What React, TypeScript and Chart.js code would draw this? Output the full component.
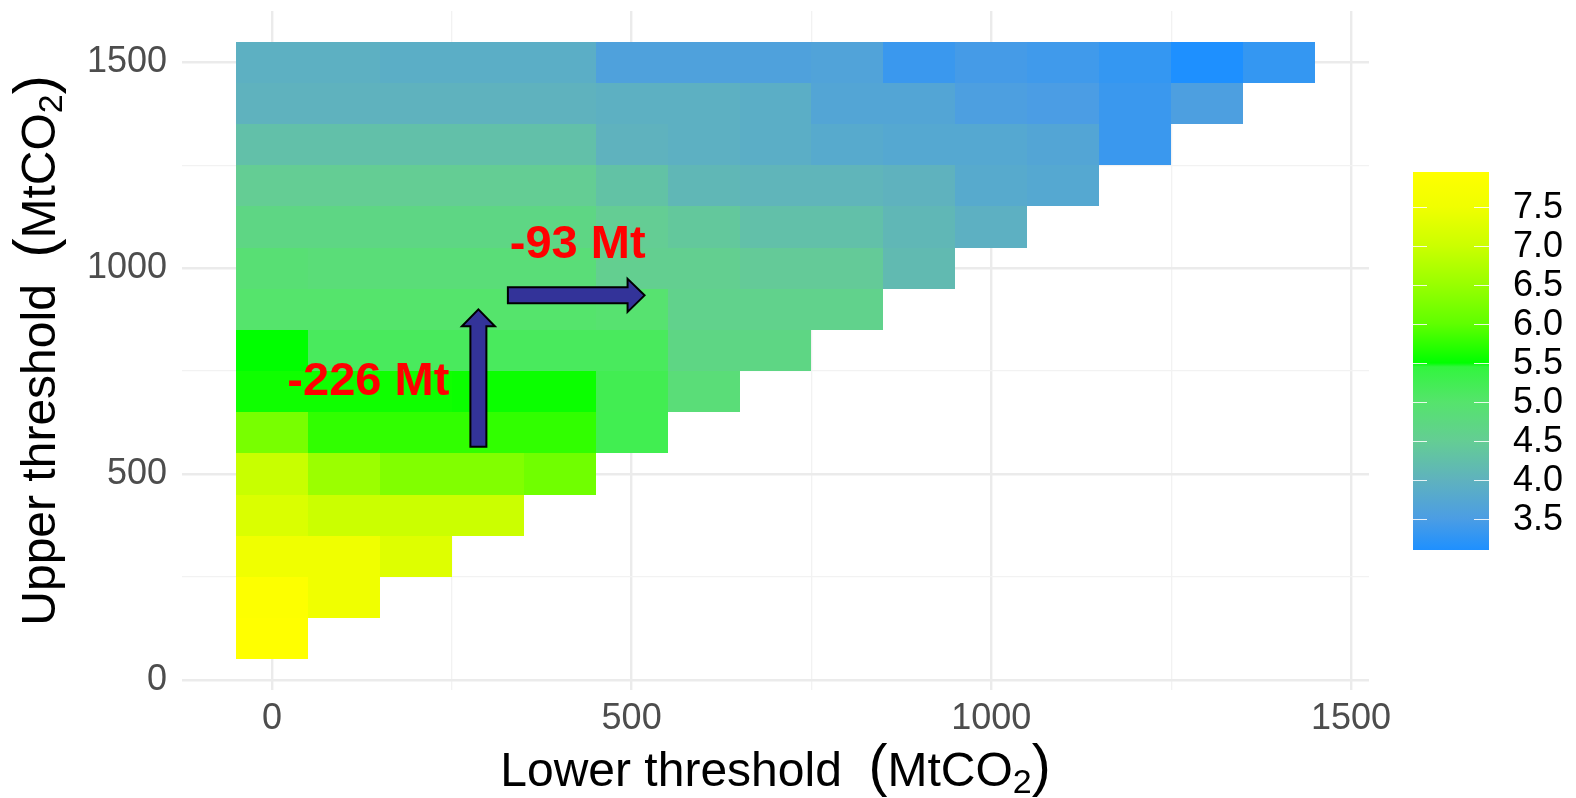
import React, { useEffect, useRef } from "react";
import { Chart, registerables } from "chart.js";

Chart.register(...registerables);

// ---------- DATA ----------
const lowerThresholds = [0, 100, 200, 300, 400, 500, 600, 700, 800, 900, 1000, 1100, 1200, 1300, 1400];
const upperThresholds = [1500, 1400, 1300, 1200, 1100, 1000, 900, 800, 700, 600, 500, 400, 300, 200, 100];

const valuesUpper1500 = [3.95, 3.95, 3.9, 3.9, 3.9, 3.6, 3.6, 3.6, 3.65, 3.35, 3.45, 3.4, 3.3, 3.1, 3.3];
const valuesUpper1400 = [4.0, 4.0, 4.0, 4.0, 4.0, 3.95, 3.95, 3.9, 3.7, 3.7, 3.55, 3.5, 3.35, 3.55];
const valuesUpper1300 = [4.25, 4.25, 4.25, 4.25, 4.25, 4.0, 3.95, 3.9, 3.8, 3.75, 3.75, 3.7, 3.35];
const valuesUpper1200 = [4.5, 4.5, 4.5, 4.5, 4.5, 4.3, 4.1, 4.05, 4.05, 4.0, 3.8, 3.75];
const valuesUpper1100 = [4.7, 4.7, 4.7, 4.7, 4.7, 4.5, 4.4, 4.25, 4.25, 4.1, 3.95];
const valuesUpper1000 = [4.9, 4.85, 4.85, 4.85, 4.85, 4.55, 4.55, 4.45, 4.45, 4.15];
const valuesUpper900 = [5.0, 5.0, 5.0, 5.0, 5.0, 4.95, 4.6, 4.6, 4.6];
const valuesUpper800 = [5.5, 5.15, 5.15, 5.15, 5.15, 5.15, 4.7, 4.7];
const valuesUpper700 = [5.58, 5.58, 5.58, 5.56, 5.56, 5.25, 4.85];
const valuesUpper600 = [6.22, 5.76, 5.76, 5.76, 5.76, 5.26];
const valuesUpper500 = [6.97, 6.53, 6.3, 6.3, 6.15];
const valuesUpper400 = [7.2, 7.0, 7.0, 7.0];
const valuesUpper300 = [7.5, 7.5, 7.25];
const valuesUpper200 = [7.9, 7.5];
const valuesUpper100 = [7.95];

const valueRows = [
  valuesUpper1500, valuesUpper1400, valuesUpper1300, valuesUpper1200, valuesUpper1100,
  valuesUpper1000, valuesUpper900, valuesUpper800, valuesUpper700, valuesUpper600,
  valuesUpper500, valuesUpper400, valuesUpper300, valuesUpper200, valuesUpper100,
];

const axisTicks = [0, 250, 500, 750, 1000, 1250, 1500];
const legendTicks = [3.5, 4.0, 4.5, 5.0, 5.5, 6.0, 6.5, 7.0, 7.5];
const legendMin = 3.1;
const legendMax = 7.95;

const xTitleParts = ["Lower threshold  ", "(", "MtCO", "2", ")"];
const yTitleParts = ["Upper threshold  ", "(", "MtCO", "2", ")"];

const annotationTexts = ["-226 Mt", "-93 Mt"];
const annotationX = [134, 425];
const annotationY = [691, 1025];

const arrowStartX = [287, 328];
const arrowStartY = [566, 934];
const arrowEndX = [287, 518];
const arrowEndY = [900, 934];

// palette (value -> colour)
const paletteValues = [3.1, 3.5, 4.0, 4.5, 5.0, 5.45, 5.5, 6.0, 6.5, 7.0, 7.5, 7.95];
const paletteColors = [
  "#1E90FF", "#4B9DE4", "#5FB2BE", "#64CD94", "#55E46C", "#32F53E",
  "#00FF00", "#5FFF00", "#98FF00", "#CBFF00", "#F0FF00", "#FFFF00",
];

const FONT = "'Liberation Sans', Arial, 'DejaVu Sans', sans-serif";

function hexToRgb(h: string): number[] {
  const n = parseInt(h.slice(1), 16);
  return [(n >> 16) & 255, (n >> 8) & 255, n & 255];
}

function colorFor(v: number): string {
  if (v <= paletteValues[0]) return paletteColors[0];
  const last = paletteValues.length - 1;
  if (v >= paletteValues[last]) return paletteColors[last];
  for (let i = 0; i < last; i++) {
    const a = paletteValues[i];
    const b = paletteValues[i + 1];
    if (v >= a && v <= b) {
      const t = (v - a) / (b - a);
      const c1 = hexToRgb(paletteColors[i]);
      const c2 = hexToRgb(paletteColors[i + 1]);
      const c = c1.map((x, k) => Math.round(x + (c2[k] - x) * t));
      return `rgb(${c[0]},${c[1]},${c[2]})`;
    }
  }
  return paletteColors[last];
}

const tileHalfX = (lowerThresholds[1] - lowerThresholds[0]) / 2;
const tileHalfY = (upperThresholds[0] - upperThresholds[1]) / 2;

const heatmapPlugin = {
  id: "heatmapTiles",
  beforeDatasetsDraw(chart: any) {
    const { ctx, scales } = chart;
    const xs = scales.x;
    const ys = scales.y;
    ctx.save();
    valueRows.forEach((row, ri) => {
      const up = upperThresholds[ri];
      row.forEach((v, ci) => {
        const lo = lowerThresholds[ci];
        const l = Math.round(xs.getPixelForValue(lo - tileHalfX));
        const r = Math.round(xs.getPixelForValue(lo + tileHalfX));
        const t = Math.round(ys.getPixelForValue(up + tileHalfY));
        const b = Math.round(ys.getPixelForValue(up - tileHalfY));
        ctx.fillStyle = colorFor(v);
        ctx.fillRect(l, t, r - l, b - t);
      });
    });
    ctx.restore();
  },
};

const annotationPlugin = {
  id: "annotations",
  afterDatasetsDraw(chart: any) {
    const { ctx, scales } = chart;
    const xs = scales.x;
    const ys = scales.y;
    ctx.save();
    for (let i = 0; i < arrowStartX.length; i++) {
      const x0 = xs.getPixelForValue(arrowStartX[i]);
      const y0 = ys.getPixelForValue(arrowStartY[i]);
      const x1 = xs.getPixelForValue(arrowEndX[i]);
      const y1 = ys.getPixelForValue(arrowEndY[i]);
      const len = Math.hypot(x1 - x0, y1 - y0);
      const dx = (x1 - x0) / len;
      const dy = (y1 - y0) / len;
      const nx = -dy;
      const ny = dx;
      const w = 8;
      const hw = 16.5;
      const hl = 17;
      const bx = x1 - dx * hl;
      const by = y1 - dy * hl;
      ctx.beginPath();
      ctx.moveTo(x0 + nx * w, y0 + ny * w);
      ctx.lineTo(bx + nx * w, by + ny * w);
      ctx.lineTo(bx + nx * hw, by + ny * hw);
      ctx.lineTo(x1, y1);
      ctx.lineTo(bx - nx * hw, by - ny * hw);
      ctx.lineTo(bx - nx * w, by - ny * w);
      ctx.lineTo(x0 - nx * w, y0 - ny * w);
      ctx.closePath();
      ctx.fillStyle = "#333399";
      ctx.fill();
      ctx.lineWidth = 2;
      ctx.strokeStyle = "#000000";
      ctx.lineJoin = "miter";
      ctx.stroke();
    }
    ctx.fillStyle = "#FF0000";
    ctx.font = `bold 47px ${FONT}`;
    ctx.textAlign = "center";
    ctx.textBaseline = "alphabetic";
    annotationTexts.forEach((txt, i) => {
      ctx.fillText(txt, xs.getPixelForValue(annotationX[i]), ys.getPixelForValue(annotationY[i]));
    });
    ctx.restore();
  },
};

// part styles for the axis titles: normal, big paren, normal, subscript, big paren
const titlePartSize = [48, 57, 48, 34, 57];
const titlePartShift = [0, -1, 0, 7, -1];

function drawTitle(ctx: CanvasRenderingContext2D, parts: string[], cx: number, cy: number, rotate: boolean) {
  ctx.save();
  ctx.textBaseline = "alphabetic";
  ctx.textAlign = "left";
  ctx.fillStyle = "#000000";
  const widths = parts.map((p, i) => {
    ctx.font = `${titlePartSize[i]}px ${FONT}`;
    return ctx.measureText(p).width;
  });
  const total = widths.reduce((a, b) => a + b, 0);
  ctx.translate(cx, cy);
  if (rotate) ctx.rotate(-Math.PI / 2);
  let x = -total / 2;
  parts.forEach((p, i) => {
    ctx.font = `${titlePartSize[i]}px ${FONT}`;
    ctx.fillText(p, x, titlePartShift[i]);
    x += widths[i];
  });
  ctx.restore();
}

const titlesPlugin = {
  id: "axisTitles",
  afterDraw(chart: any) {
    const { ctx, chartArea } = chart;
    drawTitle(ctx, xTitleParts, (chartArea.left + chartArea.right) / 2, chartArea.bottom + 96, false);
    drawTitle(ctx, yTitleParts, 55, (chartArea.top + chartArea.bottom) / 2, true);
  },
};

const colorbarPlugin = {
  id: "colorbar",
  afterDraw(chart: any) {
    const { ctx, chartArea } = chart;
    const left = chartArea.right + 44;
    const width = 76;
    const top = 172;
    const bottom = 550;
    const valToY = (v: number) => bottom - ((v - legendMin) / (legendMax - legendMin)) * (bottom - top);
    ctx.save();
    const grad = ctx.createLinearGradient(0, bottom, 0, top);
    paletteValues.forEach((v, i) => {
      const f = (v - legendMin) / (legendMax - legendMin);
      grad.addColorStop(Math.min(1, Math.max(0, f)), paletteColors[i]);
    });
    ctx.fillStyle = grad;
    ctx.fillRect(left, top, width, bottom - top);
    ctx.strokeStyle = "rgba(255,255,255,0.85)";
    ctx.lineWidth = 1.2;
    ctx.fillStyle = "#000000";
    ctx.font = `36px ${FONT}`;
    ctx.textAlign = "left";
    ctx.textBaseline = "middle";
    legendTicks.forEach((v) => {
      const y = Math.round(valToY(v)) + 0.5;
      ctx.beginPath();
      ctx.moveTo(left, y);
      ctx.lineTo(left + 14, y);
      ctx.moveTo(left + width - 15, y);
      ctx.lineTo(left + width, y);
      ctx.stroke();
      ctx.fillText(v.toFixed(1), left + width + 24, valToY(v) + 1);
    });
    ctx.restore();
  },
};

const gridColor = (c: any) =>
  c.tick && c.tick.value % 500 === 0 ? "#EBEBEB" : "#F2F2F2";
const gridWidth = (c: any) => (c.tick && c.tick.value % 500 === 0 ? 2.4 : 1.3);

const zeroPadding = (s: any) => {
  s.paddingTop = 0;
  s.paddingBottom = 0;
  s.paddingLeft = 0;
  s.paddingRight = 0;
};

export default function App() {
  const canvasRef = useRef<HTMLCanvasElement | null>(null);

  useEffect(() => {
    document.body.style.margin = "0";
    const canvas = canvasRef.current;
    if (!canvas) return;
    const points: { x: number; y: number }[] = [];
    valueRows.forEach((row, ri) =>
      row.forEach((_, ci) => points.push({ x: lowerThresholds[ci], y: upperThresholds[ri] }))
    );
    const chart = new Chart(canvas, {
      type: "scatter",
      data: {
        datasets: [
          {
            data: points,
            pointRadius: 0,
            pointHoverRadius: 0,
            showLine: false,
          },
        ],
      },
      options: {
        responsive: false,
        animation: false,
        devicePixelRatio: 1,
        layout: { padding: { left: 0, right: 207, top: 11, bottom: 0 } },
        plugins: {
          legend: { display: false },
          tooltip: { enabled: false },
        },
        scales: {
          x: {
            type: "linear",
            min: -125,
            max: 1525,
            afterBuildTicks: (s: any) => {
              s.ticks = axisTicks.map((v) => ({ value: v }));
            },
            afterFit: (s: any) => {
              s.height = 108;
              zeroPadding(s);
            },
            border: { display: false },
            grid: { color: gridColor, lineWidth: gridWidth, drawTicks: false },
            ticks: {
              padding: 7,
              color: "#4D4D4D",
              font: { family: FONT, size: 36 },
              maxRotation: 0,
              autoSkip: false,
              callback: (v: any) => (Number(v) % 500 === 0 ? String(v) : ""),
            },
            title: { display: false },
          },
          y: {
            type: "linear",
            min: -25,
            max: 1625,
            afterBuildTicks: (s: any) => {
              s.ticks = axisTicks.map((v) => ({ value: v }));
            },
            afterFit: (s: any) => {
              s.width = 182;
              zeroPadding(s);
            },
            border: { display: false },
            grid: { color: gridColor, lineWidth: gridWidth, drawTicks: false },
            ticks: {
              padding: 15,
              color: "#4D4D4D",
              font: { family: FONT, size: 36 },
              autoSkip: false,
              callback: (v: any) => (Number(v) % 500 === 0 ? String(v) : ""),
            },
            title: { display: false },
          },
        },
      },
      plugins: [heatmapPlugin, annotationPlugin, titlesPlugin, colorbarPlugin],
    });
    return () => chart.destroy();
  }, []);

  return (
    <div style={{ width: 1576, height: 798 }}>
      <canvas ref={canvasRef} width={1576} height={798} style={{ display: "block" }} />
    </div>
  );
}
